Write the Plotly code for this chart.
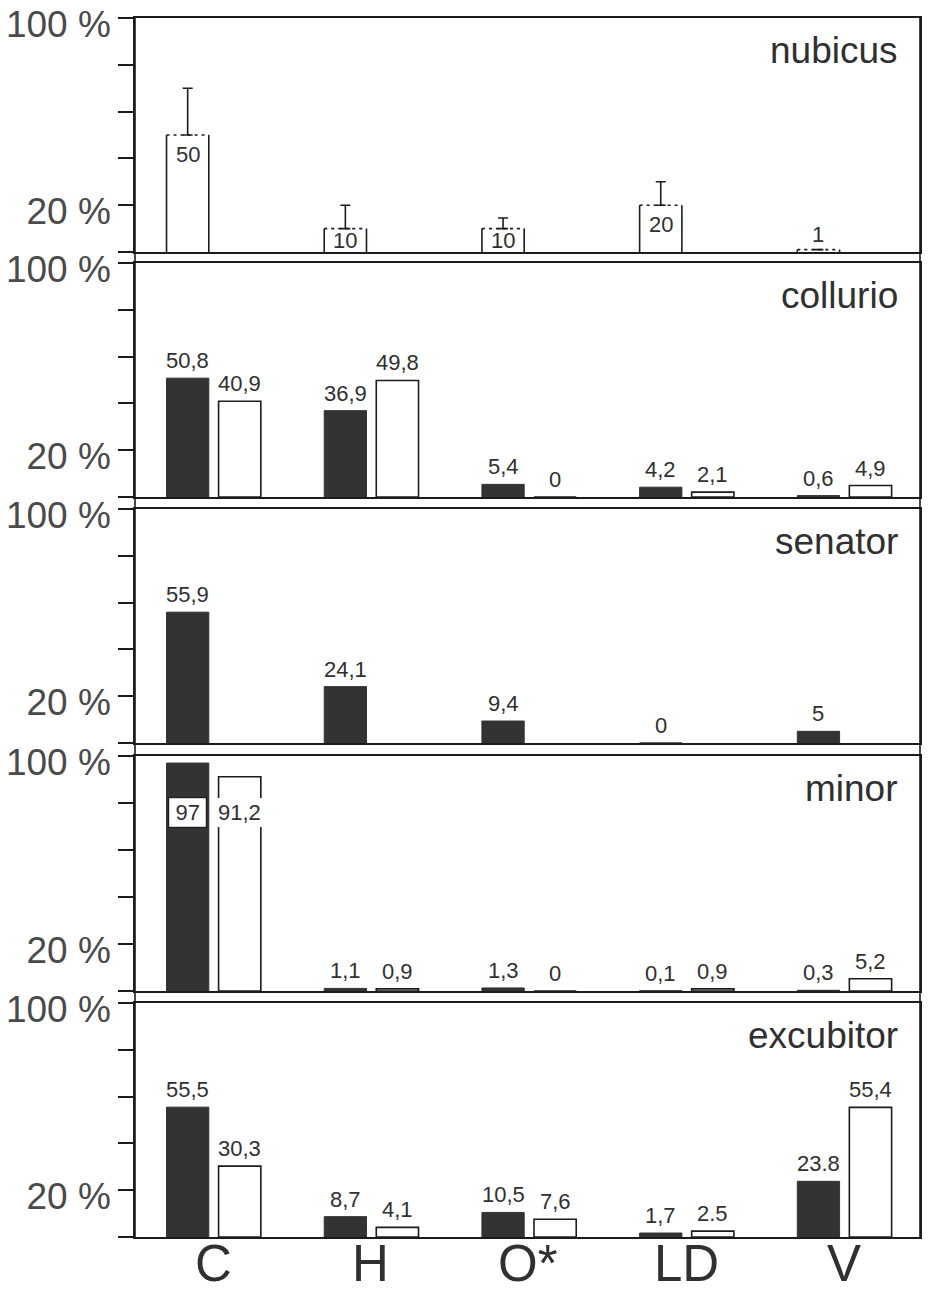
import plotly.graph_objects as go

# ---- data -------------------------------------------------------------
categories = ["C", "H", "O*", "LD", "V"]
species = ["nubicus", "collurio", "senator", "minor", "excubitor"]

nubicus_vals = [50, 10, 10, 20, 1]
nubicus_err = [20, 10, 4.5, 10, None]
nubicus_labels = ["50", "10", "10", "20", "1"]

collurio_dark = [50.8, 36.9, 5.4, 4.2, 0.6]
collurio_dark_labels = ["50,8", "36,9", "5,4", "4,2", "0,6"]
collurio_white = [40.9, 49.8, 0, 2.1, 4.9]
collurio_white_labels = ["40,9", "49,8", "0", "2,1", "4,9"]

senator_dark = [55.9, 24.1, 9.4, 0, 5]
senator_dark_labels = ["55,9", "24,1", "9,4", "0", "5"]

minor_dark = [97, 1.1, 1.3, 0.1, 0.3]
minor_dark_labels = ["97", "1,1", "1,3", "0,1", "0,3"]
minor_white = [91.2, 0.9, 0, 0.9, 5.2]
minor_white_labels = ["91,2", "0,9", "0", "0,9", "5,2"]

excubitor_dark = [55.5, 8.7, 10.5, 1.7, 23.8]
excubitor_dark_labels = ["55,5", "8,7", "10,5", "1,7", "23.8"]
excubitor_white = [30.3, 4.1, 7.6, 2.5, 55.4]
excubitor_white_labels = ["30,3", "4,1", "7,6", "2.5", "55,4"]

y_ticks = [0, 20, 40, 60, 80, 100]
y_tick_labels = ["", "20 %", "", "", "", "100 %"]

# ---- layout constants -------------------------------------------------
W, H = 928, 1292
LEFT, RIGHT, TOP, BOTTOM = 135, 920, 18, 1237
PANELS_PX = [(18, 252), (263, 497), (509, 743), (756, 991), (1003, 1237)]
X_RANGE = [-0.495, 4.483]
DARK_OFF, WHITE_OFF, BAR_W = -0.295, 0.035, 0.268
INSIDE_LEVEL = 76          # level of the labels written inside very tall bars
DARK = "#333333"
INK = "#1c1c1c"
TEXT = "#303030"
FONT = "Arial, Liberation Sans, sans-serif"
LW = 1.6
VAL_SIZE = 22

plot_h = BOTTOM - TOP
xs = list(range(len(categories)))

panel_data = {
    "nubicus": None,
    "collurio": (collurio_dark, collurio_dark_labels, collurio_white, collurio_white_labels),
    "senator": (senator_dark, senator_dark_labels, None, None),
    "minor": (minor_dark, minor_dark_labels, minor_white, minor_white_labels),
    "excubitor": (excubitor_dark, excubitor_dark_labels, excubitor_white, excubitor_white_labels),
}

fig = go.Figure()
annotations = []
layout = {}


def bar_center(i, off):
    return i + off + BAR_W / 2


for k, name in enumerate(species):
    sfx = "" if k == 0 else str(k + 1)
    xa, ya = "x" + sfx, "y" + sfx
    top_px, bot_px = PANELS_PX[k]
    panel_h = bot_px - top_px
    dom = [(BOTTOM - bot_px) / plot_h, (BOTTOM - top_px) / plot_h]
    last = k == len(species) - 1

    layout["xaxis" + sfx] = dict(
        domain=[0, 1], range=X_RANGE, anchor=ya,
        showline=True, mirror=True, linecolor=INK, linewidth=LW,
        showgrid=False, zeroline=False,
        tickmode="array", tickvals=xs, showticklabels=False,
        ticks="", automargin=False,
    )
    layout["yaxis" + sfx] = dict(
        domain=dom, range=[0, 100], anchor=xa,
        showline=True, mirror=True, linecolor=INK, linewidth=LW,
        showgrid=False, zeroline=False,
        tickmode="array", tickvals=y_ticks, ticktext=y_tick_labels,
        ticks="outside", ticklen=15, tickwidth=LW, tickcolor=INK,
        ticklabelstandoff=0, ticklabelshift=6, ticklabeloverflow="allow",
        automargin=False,
        tickfont=dict(family=FONT, size=37, color="#4a4a4a"),
    )

    # species name in the upper right corner
    annotations.append(dict(
        text=name, xref=xa + " domain", yref=ya + " domain", x=1, y=1,
        xanchor="right", yanchor="top", xshift=-20, yshift=-10,
        showarrow=False, font=dict(family=FONT, size=37, color=TEXT),
    ))

    if last:
        # category names under the bottom panel
        for i, cat in zip(xs, categories):
            annotations.append(dict(
                text=cat, xref=xa, yref=ya + " domain", x=i, y=0,
                xanchor="center", yanchor="top", yshift=3, borderpad=0,
                showarrow=False, font=dict(family=FONT, size=51, color=TEXT),
            ))

    if name == "nubicus":
        # open bars with dashed tops and one-sided error bars
        fig.add_trace(go.Bar(
            x=xs, y=nubicus_vals, xaxis=xa, yaxis=ya,
            offset=DARK_OFF, width=BAR_W,
            marker=dict(color="white", line=dict(width=0)),
            error_y=dict(type="data", symmetric=False, array=nubicus_err,
                         arrayminus=[0] * len(xs), color=INK,
                         thickness=LW, width=5),
            showlegend=False, hoverinfo="skip",
        ))
        side_x, side_y, top_x, top_y = [], [], [], []
        for i, v in zip(xs, nubicus_vals):
            xl, xr = i + DARK_OFF, i + DARK_OFF + BAR_W
            side_x += [xl, xl, None, xr, xr, None]
            side_y += [0, v, None, 0, v, None]
            top_x += [xl, xr, None]
            top_y += [v, v, None]
        fig.add_trace(go.Scatter(
            x=side_x, y=side_y, xaxis=xa, yaxis=ya, mode="lines",
            line=dict(color=INK, width=LW), showlegend=False, hoverinfo="skip",
        ))
        fig.add_trace(go.Scatter(
            x=top_x, y=top_y, xaxis=xa, yaxis=ya, mode="lines",
            line=dict(color=INK, width=LW, dash="3px,4px"),
            showlegend=False, hoverinfo="skip",
        ))
        for i, v, lab in zip(xs, nubicus_vals, nubicus_labels):
            h_px = v / 100 * panel_h
            if h_px < 10:
                annotations.append(dict(
                    text=lab, xref=xa, yref=ya, x=bar_center(i, DARK_OFF), y=v,
                    yanchor="bottom", yshift=1, showarrow=False,
                    font=dict(family=FONT, size=VAL_SIZE, color=TEXT),
                ))
            else:
                annotations.append(dict(
                    text=lab, xref=xa, yref=ya, x=bar_center(i, DARK_OFF), y=v,
                    yanchor="middle", yshift=-min(19.5, h_px / 2), showarrow=False,
                    font=dict(family=FONT, size=VAL_SIZE, color=TEXT),
                ))
        continue

    dark, dark_lab, white, white_lab = panel_data[name]
    fig.add_trace(go.Bar(
        x=xs, y=dark, xaxis=xa, yaxis=ya, offset=DARK_OFF, width=BAR_W,
        marker=dict(color=DARK, line=dict(color=DARK, width=1)),
        showlegend=False, hoverinfo="skip",
    ))
    if white is not None:
        fig.add_trace(go.Bar(
            x=xs, y=white, xaxis=xa, yaxis=ya, offset=WHITE_OFF, width=BAR_W,
            marker=dict(color="white", line=dict(color=INK, width=LW)),
            showlegend=False, hoverinfo="skip",
        ))

    series = [(dark, dark_lab, DARK_OFF, True)]
    if white is not None:
        series.append((white, white_lab, WHITE_OFF, False))
    for vals, labs, off, is_dark in series:
        for i, v, lab in zip(xs, vals, labs):
            if v > 85:
                annotations.append(dict(
                    text=lab, xref=xa, yref=ya, x=bar_center(i, off), y=INSIDE_LEVEL,
                    yanchor="middle", showarrow=False, bgcolor="white",
                    bordercolor=INK if is_dark else "white",
                    borderwidth=1.2 if is_dark else 0,
                    borderpad=2, width=33 if is_dark else None,
                    font=dict(family=FONT, size=VAL_SIZE, color=TEXT),
                ))
            else:
                annotations.append(dict(
                    text=lab, xref=xa, yref=ya, x=bar_center(i, off), y=v,
                    yanchor="bottom", yshift=3, showarrow=False,
                    font=dict(family=FONT, size=VAL_SIZE, color=TEXT),
                ))

# continuous left and right frame edges across the stacked panels
shapes = [
    dict(type="line", xref="paper", yref="paper", x0=0, x1=0, y0=0, y1=1,
         line=dict(color=INK, width=LW)),
    dict(type="line", xref="paper", yref="paper", x0=1, x1=1, y0=0, y1=1,
         line=dict(color=INK, width=LW)),
]

fig.update_layout(
    width=W, height=H,
    margin=dict(l=LEFT, r=W - RIGHT, t=TOP, b=H - BOTTOM, pad=0),
    paper_bgcolor="white", plot_bgcolor="white",
    barmode="overlay", showlegend=False,
    annotations=annotations, shapes=shapes,
    font=dict(family=FONT, color=TEXT),
    **layout,
)

fig.write_html("out.html")
